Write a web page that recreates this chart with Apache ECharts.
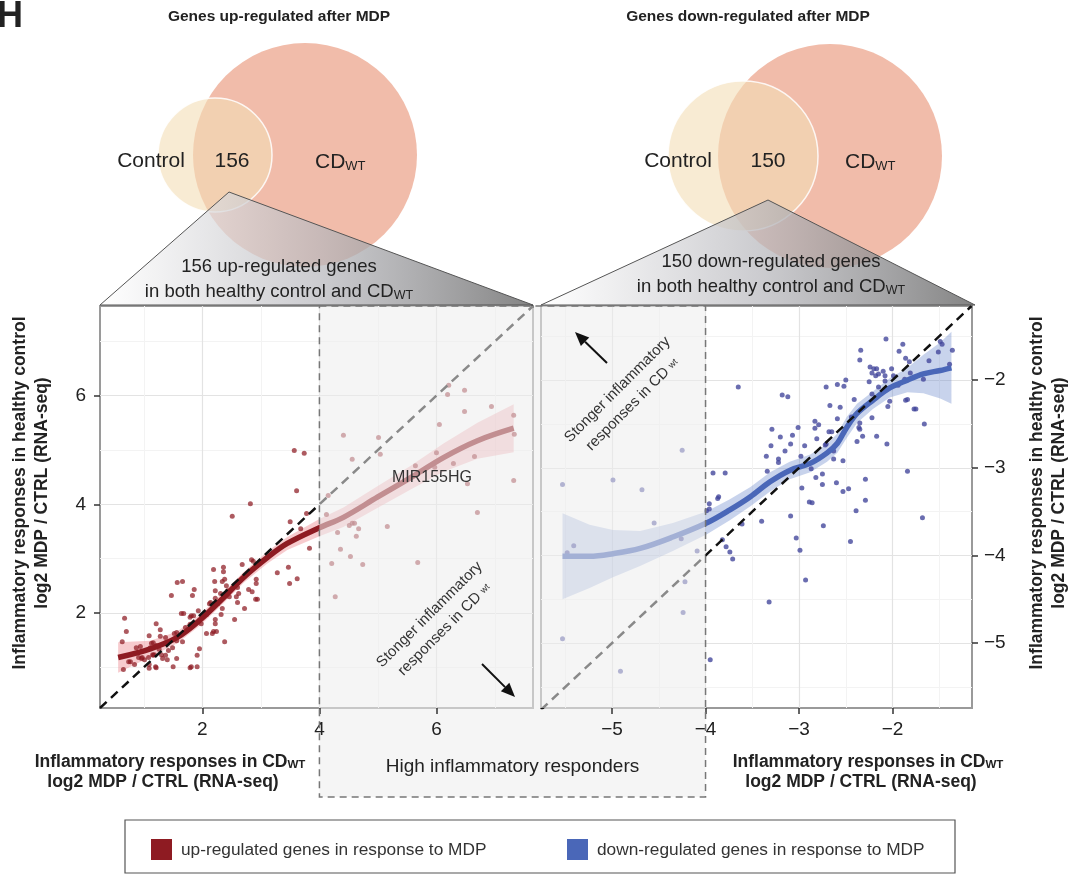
<!DOCTYPE html>
<html>
<head>
<meta charset="utf-8">
<script src="https://cdn.jsdelivr.net/npm/echarts@6/dist/echarts.min.js"></script>
<style>
  html, body { margin: 0; padding: 0; background: #fff; }
  #chart { width: 1075px; height: 875px; }
</style>
</head>
<body>
<div id="chart"></div>
<script>
// genes up-regulated in both groups: [CDwt log2 MDP/CTRL, control log2 MDP/CTRL]
const upGenes = [
  [3.57,4.99],[3.74,4.94],[3.61,4.25],[2.82,4.01],[2.51,3.78],[3.78,3.83],[3.50,3.68],[3.68,3.55],[3.83,3.19],
  [2.84,2.98],[2.87,2.95],[3.28,2.74],[3.47,2.84],[2.68,2.89],[3.49,2.54],[3.62,2.63],[2.19,2.80],[2.36,2.84],
  [2.36,2.76],[2.34,2.58],[2.38,2.62],[2.41,2.50],[2.21,2.58],[1.57,2.56],[1.66,2.58],[1.86,2.43],[1.47,2.32],
  [1.83,2.32],[1.68,1.99],[1.81,1.95],[1.93,2.04],[1.85,1.80],[1.98,1.80],[2.07,1.62],[2.17,1.62],[2.19,1.66],
  [2.22,1.80],[2.22,2.27],[2.22,2.41],[2.14,2.19],[2.34,2.08],[2.32,1.97],[2.55,1.88],[2.72,2.08],[2.79,2.43],
  [2.91,2.25],[2.94,2.25],[2.92,2.54],[2.62,2.36],[2.58,2.30],[2.46,2.30],[2.43,2.41],[2.38,1.47],[1.95,1.34],
  [1.91,1.22],[1.91,1.01],[1.79,0.99],[1.81,1.01],[1.56,1.16],[1.50,1.01],[1.71,1.73],[1.66,1.47],[1.64,1.99],
  [1.79,1.79],[1.79,1.92],[1.56,1.64],[1.52,1.62],[1.56,1.49],[1.37,1.22],[1.40,1.14],[1.37,1.55],[1.28,1.69],
  [1.28,1.57],[1.21,1.80],[1.21,1.40],[1.16,1.45],[1.09,1.58],[1.15,1.23],[1.18,1.23],[1.09,1.05],[1.09,0.98],
  [1.20,1.01],[1.21,0.99],[1.08,1.18],[1.01,1.14],[0.97,1.18],[0.94,1.38],[0.87,1.36],[0.84,1.05],[0.74,1.10],
  [0.77,1.10],[0.67,1.90],[0.70,1.66],[0.63,1.47],[0.65,0.96],[1.32,1.16],[1.30,1.23],[1.26,1.33],[1.42,1.31],
  [1.49,1.36],[1.37,1.45],[1.11,1.36],[2.07,1.97],[2.12,2.17],[2.60,2.19],[2.60,2.47],[2.26,2.17],[2.31,2.36],
  [2.22,1.88],[2.85,2.39],[2.92,2.62],[1.13,1.44],[1.16,1.22],[0.96,1.16],[0.91,1.18],[2.24,1.66],[1.85,1.95],
  [4.15,4.16],[4.12,3.81],[4.41,5.27],[4.56,4.83],[5.01,5.23],[5.04,4.92],[4.31,3.48],[4.36,3.17],[4.51,3.61],
  [4.56,3.65],[4.60,3.65],[4.67,3.55],[4.63,3.41],[4.53,3.04],[4.21,2.91],[4.74,2.89],[4.27,2.30],[5.16,3.59],
  [5.68,2.93],[5.64,4.71],[6.00,4.95],[5.97,4.68],[6.05,5.47],[6.21,6.19],[6.19,6.02],[6.48,6.10],[6.48,5.71],
  [6.29,4.75],[6.53,4.38],[6.65,4.88],[6.70,3.85],[6.94,5.80],[7.32,5.64],[7.33,5.29],[7.32,4.44]
];

// genes down-regulated in both groups
const downGenes = [
  [-5.53,-3.19],[-4.99,-3.14],[-4.68,-3.25],[-4.55,-3.63],[-4.25,-2.80],[-5.41,-3.89],[-5.48,-3.97],[-4.26,-3.81],
  [-4.09,-3.95],[-4.22,-4.30],[-4.24,-4.65],[-5.53,-4.95],[-4.91,-5.32],
  [-3.99,-3.49],[-3.96,-3.47],[-3.95,-5.19],[-3.92,-3.06],[-3.79,-3.06],[-3.96,-3.41],[-3.87,-3.35],[-3.86,-3.33],
  [-3.82,-3.82],[-3.78,-3.90],[-3.74,-3.96],[-3.71,-4.04],[-3.65,-2.08],[-3.61,-3.64],[-3.40,-3.61],[-3.32,-4.53],
  [-3.09,-3.55],[-3.03,-3.80],[-2.99,-3.94],[-2.93,-4.28],[-3.34,-3.04],[-3.35,-2.87],[-3.22,-2.94],[-3.22,-2.90],
  [-3.15,-2.81],[-3.30,-2.75],[-3.29,-2.56],[-3.20,-2.65],[-3.09,-2.73],[-3.07,-2.63],[-3.01,-2.54],[-3.18,-2.17],
  [-3.12,-2.19],[-2.98,-2.87],[-2.94,-2.75],[-2.97,-3.23],[-2.89,-3.39],[-2.86,-3.40],[-2.87,-3.01],[-2.82,-3.11],
  [-2.75,-3.19],[-2.75,-3.07],[-2.74,-3.66],[-2.83,-2.47],[-2.79,-2.51],[-2.83,-2.55],[-2.81,-2.67],[-2.71,-2.08],
  [-2.67,-2.29],[-2.68,-2.59],[-2.65,-2.59],[-2.72,-2.74],[-2.71,-2.73],[-2.63,-2.81],[-2.63,-2.90],[-2.60,-3.17],
  [-2.53,-2.92],[-2.53,-3.27],[-2.47,-3.24],[-2.45,-3.84],[-2.59,-2.05],[-2.52,-2.07],[-2.50,-2.00],[-2.59,-2.44],
  [-2.56,-2.31],[-2.41,-2.22],[-2.39,-3.49],[-2.38,-2.70],[-2.36,-2.54],[-2.35,-2.56],[-2.32,-2.64],[-2.29,-3.13],
  [-2.29,-3.37],[-2.35,-1.77],[-2.34,-1.66],[-2.25,-2.02],[-2.22,-2.43],[-2.22,-2.16],[-2.17,-2.64],[-2.15,-2.08],
  [-2.24,-1.85],[-2.20,-1.87],[-2.17,-1.87],[-2.15,-1.93],[-2.10,-1.90],[-2.18,-1.95],[-2.22,-1.92],[-2.08,-1.95],
  [-2.08,-2.01],[-2.07,-1.53],[-2.06,-2.73],[-2.05,-2.30],[-2.03,-2.24],[-2.01,-1.87],[-1.99,-1.95],[-1.94,-2.06],
  [-1.93,-1.67],[-1.89,-1.59],[-1.86,-1.75],[-1.87,-1.99],[-1.86,-2.23],[-1.84,-2.22],[-1.82,-1.79],[-1.81,-1.92],
  [-1.84,-3.04],[-1.77,-2.33],[-1.75,-2.33],[-1.68,-3.57],[-1.66,-2.50],[-1.67,-1.99],[-1.61,-1.78],[-1.51,-1.68],
  [-1.49,-1.56],[-1.47,-1.59],[-1.39,-1.82],[-1.36,-1.66],[-2.44,-2.42],[-2.35,-2.49]
];

// loess fits with confidence band
const upFitX  = [0.56, 1.11, 1.57, 1.97, 2.36, 2.70, 3.11, 3.45, 4.00, 4.41, 4.99, 5.56, 6.12, 6.70, 7.32];
const upFitY  = [1.18, 1.34, 1.55, 1.88, 2.28, 2.65, 3.02, 3.28, 3.57, 3.76, 4.13, 4.49, 4.86, 5.17, 5.40];
const upFitLo = [0.90, 1.19, 1.44, 1.78, 2.18, 2.55, 2.91, 3.16, 3.41, 3.58, 3.93, 4.27, 4.60, 4.84, 4.96];
const upFitHi = [1.46, 1.49, 1.66, 1.98, 2.38, 2.75, 3.13, 3.40, 3.73, 3.94, 4.33, 4.71, 5.12, 5.50, 5.84];

const downFitX  = [-5.53,-5.24,-4.99,-4.70,-4.35,-3.99,-3.74,-3.52,-3.31,-3.10,-2.88,-2.70,-2.59,-2.49,-2.38,-2.21,-2.03,-1.84,-1.67,-1.49,-1.37];
const downFitY  = [-4.01,-4.01,-3.98,-3.92,-3.79,-3.63,-3.48,-3.33,-3.16,-3.03,-2.95,-2.83,-2.72,-2.54,-2.38,-2.23,-2.09,-2.00,-1.93,-1.89,-1.86];
const downFitLo = [-4.50,-4.37,-4.25,-4.12,-3.95,-3.76,-3.60,-3.44,-3.27,-3.13,-3.05,-2.93,-2.83,-2.66,-2.49,-2.33,-2.20,-2.14,-2.15,-2.21,-2.27];
const downFitHi = [-3.52,-3.65,-3.71,-3.72,-3.63,-3.50,-3.36,-3.22,-3.05,-2.93,-2.85,-2.73,-2.61,-2.42,-2.27,-2.13,-1.98,-1.86,-1.71,-1.57,-1.45];

const upRange = [0.25, 7.65];
const downXRange = [-5.76, -1.15];
const downYRange = [-5.74, -1.155];
const upTicks = [2, 4, 6];
const downTicks = [-5, -4, -3, -2];
const sharedCounts = [156, 150];
const responderCut = [4, -4];

const RED = '#8e1b22', BLUE = '#4a67b8';
const FONT = '"Liberation Sans", Arial, sans-serif';
const G = [
  { left: 100, top: 306, width: 433, height: 402 },
  { left: 541, top: 306, width: 431, height: 402 }
];

const chart = echarts.init(document.getElementById('chart'));

function axisBase(extra) {
  return Object.assign({
    type: 'value',
    z: 2,
    axisLine: { show: false },
    splitLine: { show: true, lineStyle: { color: '#e3e3e3', width: 1.2 } },
    minorTick: { show: false, splitNumber: 2 },
    minorSplitLine: { show: true, lineStyle: { color: '#f3f3f3', width: 1 } }
  }, extra);
}

const fmtMinus = v => String(v).replace('-', '\u2212');
const ticks = vals => ({ show: true, length: 6, customValues: vals, lineStyle: { color: '#333', width: 1.5 } });
const labels = (vals, margin, fmt) => ({ fontSize: 19, color: '#222', fontFamily: FONT, margin: margin, customValues: vals, formatter: fmt });

function band(xi, xs, lo, hi, color) {
  return {
    type: 'custom', xAxisIndex: xi, yAxisIndex: xi, z: 3, silent: true,
    data: [[xs[0], lo[0]]],
    renderItem: (params, api) => {
      const top = xs.map((x, i) => api.coord([x, hi[i]]));
      const bot = xs.map((x, i) => api.coord([x, lo[i]])).reverse();
      return { type: 'polygon', shape: { points: top.concat(bot) }, style: { fill: color } };
    }
  };
}

function fitLine(xi, xs, ys, color) {
  return {
    type: 'line', xAxisIndex: xi, yAxisIndex: xi, z: 5, symbol: 'none', smooth: 0.35,
    data: xs.map((x, i) => [x, ys[i]]),
    lineStyle: { color: color, width: 5.5 }
  };
}

function diagonal(xi, a, b) {
  return {
    type: 'line', xAxisIndex: xi, yAxisIndex: xi, z: 6, symbol: 'none',
    data: [[a, a], [b, b]],
    lineStyle: { color: '#111', width: 2.5, type: [9, 6] }
  };
}

chart.setOption({
  animation: false,
  backgroundColor: '#fff',
  grid: G.map(g => Object.assign({ show: true, backgroundColor: '#fff', borderColor: '#9a9a9a', borderWidth: 2 }, g)),
  xAxis: [
    axisBase({ gridIndex: 0, min: upRange[0], max: upRange[1], splitNumber: 3,
      axisTick: ticks(upTicks), axisLabel: labels(upTicks, 12) }),
    axisBase({ gridIndex: 1, min: downXRange[0], max: downXRange[1],
      axisTick: ticks(downTicks), axisLabel: labels(downTicks, 12, fmtMinus) })
  ],
  yAxis: [
    axisBase({ gridIndex: 0, min: upRange[0], max: upRange[1], splitNumber: 3,
      axisTick: ticks(upTicks), axisLabel: labels(upTicks, 14) }),
    axisBase({ gridIndex: 1, position: 'right', min: downYRange[0], max: downYRange[1],
      axisTick: ticks(downTicks), axisLabel: labels(downTicks, 12, fmtMinus) })
  ],
  series: [
    band(0, upFitX, upFitLo, upFitHi, 'rgba(238,140,146,0.45)'),
    band(1, downFitX, downFitLo, downFitHi, 'rgba(110,140,205,0.38)'),
    { type: 'scatter', name: 'up-regulated genes in response to MDP', xAxisIndex: 0, yAxisIndex: 0, z: 4,
      data: upGenes, symbolSize: 5, itemStyle: { color: RED, opacity: 0.72 } },
    { type: 'scatter', name: 'down-regulated genes in response to MDP', xAxisIndex: 1, yAxisIndex: 1, z: 4,
      data: downGenes, symbolSize: 5, itemStyle: { color: '#40449a', opacity: 0.78 } },
    fitLine(0, upFitX, upFitY, RED),
    fitLine(1, downFitX, downFitY, BLUE),
    diagonal(0, upRange[0], upRange[1]),
    diagonal(1, downXRange[0], downYRange[1])
  ]
});

// ---- decorations: venn diagrams, zoom triangles, highlight box, labels ----
const cutL = chart.convertToPixel({ gridIndex: 0 }, [responderCut[0], upRange[0]])[0];
const cutR = chart.convertToPixel({ gridIndex: 1 }, [responderCut[1], downYRange[0]])[0];
const plotTop = G[0].top, plotBottom = G[0].top + G[0].height, boxBottom = 797;
const leftRight = G[0].left + G[0].width;
const shade = 'rgba(236,236,236,0.55)';

function txt(x, y, text, font, opts) {
  return Object.assign({
    type: 'text', x: x, y: y, z: 120, silent: true,
    style: Object.assign({ text: text, font: font, fill: '#222', align: 'center', textAlign: 'center',
      verticalAlign: 'middle', textVerticalAlign: 'middle' }, (opts && opts.style) || {})
  }, (opts && opts.el) || {});
}

function arrow(x1, y1, x2, y2) {
  const a = Math.atan2(y2 - y1, x2 - x1), L = 14, W = 6;
  const bx = x2 - L * Math.cos(a), by = y2 - L * Math.sin(a);
  return {
    type: 'group', z: 120, silent: true,
    children: [
      { type: 'line', z: 120, shape: { x1: x1, y1: y1, x2: bx, y2: by }, style: { stroke: '#111', lineWidth: 2 } },
      { type: 'polygon', z: 120, shape: { points: [[x2, y2], [bx + W * Math.sin(a), by - W * Math.cos(a)], [bx - W * Math.sin(a), by + W * Math.cos(a)]] },
        style: { fill: '#111' } }
    ]
  };
}

function venn(c1, r1, c2, r2, cy) {
  return [
    { type: 'circle', z: 10, silent: true, shape: { cx: c2, cy: cy, r: r2 }, style: { fill: '#f1bcaa' } },
    { type: 'circle', z: 11, silent: true, shape: { cx: c1, cy: cy, r: r1 },
      style: { fill: 'rgba(243,222,182,0.6)', stroke: 'rgba(255,255,255,0.85)', lineWidth: 1.5 } }
  ];
}

function zoomTri(apex, x0, x1) {
  return {
    type: 'polygon', z: 12, silent: true,
    shape: { points: [apex, [x0, plotTop - 1], [x1, plotTop - 1]] },
    style: {
      fill: { type: 'linear', x: 0, y: 0, x2: 1, y2: 0, colorStops: [
        { offset: 0, color: 'rgba(255,255,255,0.7)' },
        { offset: 0.5, color: 'rgba(185,185,190,0.72)' },
        { offset: 1, color: 'rgba(115,115,115,0.88)' }
      ] },
      stroke: '#555', lineWidth: 1
    }
  };
}

const big = '21px ' + FONT;
const titleFont = 'bold 17.5px ' + FONT;
const richCD = { a: { fontSize: 21, fontFamily: FONT, lineHeight: 24, verticalAlign: 'bottom' },
                 b: { fontSize: 13, fontFamily: FONT, lineHeight: 18, verticalAlign: 'bottom' } };
const richSub = (size, weight) => ({
  a: { fontSize: size, fontWeight: weight, fontFamily: FONT, lineHeight: size + 5, verticalAlign: 'bottom' },
  b: { fontSize: size - 6, fontWeight: weight, fontFamily: FONT, lineHeight: size - 8, verticalAlign: 'bottom' }
});
const richRot = { a: { fontSize: 15, fontFamily: FONT, lineHeight: 21 }, b: { fontSize: 9, fontFamily: FONT, lineHeight: 21 } };

const graphics = [].concat(
  // highlight region
  [
    { type: 'rect', z: 100, silent: true, shape: { x: cutL, y: plotTop, width: leftRight - cutL, height: G[0].height }, style: { fill: shade } },
    { type: 'rect', z: 100, silent: true, shape: { x: G[1].left, y: plotTop, width: cutR - G[1].left, height: G[1].height }, style: { fill: shade } },
    { type: 'rect', z: 1, silent: true, shape: { x: leftRight, y: plotTop, width: G[1].left - leftRight, height: G[0].height }, style: { fill: shade } },
    { type: 'rect', z: 1, silent: true, shape: { x: cutL, y: plotBottom, width: cutR - cutL, height: boxBottom - plotBottom }, style: { fill: shade } },
    { type: 'rect', z: 101, silent: true, shape: { x: cutL, y: plotTop, width: cutR - cutL, height: boxBottom - plotTop },
      style: { fill: 'none', stroke: '#777', lineWidth: 1.5, lineDash: [7, 5] } }
  ],
  venn(215, 57, 305, 112, 155),
  venn(743, 75, 830, 112, 156),
  [
    zoomTri([229, 192], G[0].left, leftRight),
    zoomTri([768, 200], G[1].left, G[1].left + G[1].width + 3),
    txt(-3, 17, 'H', 'bold 36px ' + FONT, { style: { align: 'left', textAlign: 'left' } }),
    txt(279, 17, 'Genes up-regulated after MDP', 'bold 15.5px ' + FONT),
    txt(748, 17, 'Genes down-regulated after MDP', 'bold 15.5px ' + FONT),
    txt(151, 161, 'Control', big),
    txt(232, 161, String(sharedCounts[0]), big),
    txt(315, 161, '{a|CD}{b|WT}', big, { style: { align: 'left', textAlign: 'left', rich: richCD } }),
    txt(678, 161, 'Control', big),
    txt(768, 161, String(sharedCounts[1]), big),
    txt(845, 161, '{a|CD}{b|WT}', big, { style: { align: 'left', textAlign: 'left', rich: richCD } }),
    txt(279, 267, sharedCounts[0] + ' up-regulated genes', '18.5px ' + FONT),
    txt(279, 290, '{a|in both healthy control and CD}{b|WT}', '18.5px ' + FONT, { style: { rich: richSub(18.5, 'normal') } }),
    txt(771, 262, sharedCounts[1] + ' down-regulated genes', '18.5px ' + FONT),
    txt(771, 285, '{a|in both healthy control and CD}{b|WT}', '18.5px ' + FONT, { style: { rich: richSub(18.5, 'normal') } }),
    // axis titles
    txt(170, 760, '{a|Inflammatory responses in CD}{b|WT}', titleFont, { style: { rich: richSub(17.5, 'bold') } }),
    txt(163, 782, 'log2 MDP / CTRL (RNA-seq)', titleFont),
    txt(868, 760, '{a|Inflammatory responses in CD}{b|WT}', titleFont, { style: { rich: richSub(17.5, 'bold') } }),
    txt(861, 782, 'log2 MDP / CTRL (RNA-seq)', titleFont),
    txt(20, 493, 'Inflammatory responses in healthy control', titleFont, { el: { rotation: Math.PI / 2 } }),
    txt(42, 493, 'log2 MDP / CTRL (RNA-seq)', titleFont, { el: { rotation: Math.PI / 2 } }),
    txt(1037, 493, 'Inflammatory responses in healthy control', titleFont, { el: { rotation: Math.PI / 2 } }),
    txt(1059, 493, 'log2 MDP / CTRL (RNA-seq)', titleFont, { el: { rotation: Math.PI / 2 } }),
    // annotations
    txt(432, 478, 'MIR155HG', '16px ' + FONT, { style: { fill: '#333' } }),
    txt(437, 622, '{a|Stonger inflammatory}\n{a|responses in CD }{b|wt}', '15px ' + FONT,
      { el: { rotation: Math.PI / 4 }, style: { fill: '#333', rich: richRot } }),
    txt(625, 397, '{a|Stonger inflammatory}\n{a|responses in CD }{b|wt}', '15px ' + FONT,
      { el: { rotation: Math.PI / 4 }, style: { fill: '#333', rich: richRot } }),
    arrow(482, 664, 515, 697),
    arrow(607, 363, 575, 332),
    txt((cutL + cutR) / 2, 767, 'High inflammatory responders', '19px ' + FONT),
    // legend
    { type: 'rect', z: 120, silent: true, shape: { x: 125, y: 820, width: 830, height: 53 }, style: { fill: '#fff', stroke: '#555', lineWidth: 1.2 } },
    { type: 'rect', z: 121, silent: true, shape: { x: 151, y: 839, width: 21, height: 21 }, style: { fill: RED } },
    txt(181, 850, 'up-regulated genes in response to MDP', '17.3px ' + FONT, { style: { align: 'left', textAlign: 'left', fill: '#333' } }),
    { type: 'rect', z: 121, silent: true, shape: { x: 567, y: 839, width: 21, height: 21 }, style: { fill: BLUE } },
    txt(597, 850, 'down-regulated genes in response to MDP', '17.3px ' + FONT, { style: { align: 'left', textAlign: 'left', fill: '#333' } })
  ]
);

chart.setOption({ graphic: graphics });
</script>
</body>
</html>
